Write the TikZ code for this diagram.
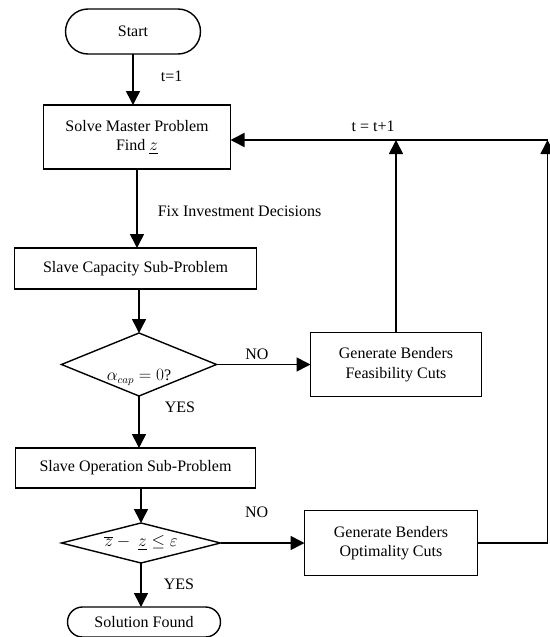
\documentclass[tikz,border=0pt]{standalone}
\usepackage{amsmath,amssymb}
\usepackage{fontspec}
\setmainfont{Liberation Serif}
\usepackage{tikz}
\usetikzlibrary{
  shapes.geometric, shapes.misc, arrows.meta, positioning
}
\tikzset{
  flowbox/.style={
    draw, line width=1.4pt, align=center, inner sep=0pt, outer sep=0pt,
    font=\fontsize{16}{19.5}\selectfont, fill=white
  },
  terminal/.style={
    flowbox, rounded rectangle
  },
  process/.style={
    flowbox, rectangle
  },
  decision/.style={
    flowbox, diamond, aspect=3.5
  },
  flowarrow/.style={
    -{Triangle[length=14pt,width=14pt]}, line width=1.6pt
  },
  flowlabel/.style={
    font=\fontsize{16}{19.5}\selectfont, inner sep=0pt
  },
}

\begin{document}
\begin{tikzpicture}[x=1pt, y=1pt]
  \useasboundingbox (0,0) rectangle (549,-637);

  % ── Main column ──
  \node[terminal, minimum width=135pt, minimum height=45pt] (start) at (133,-31.5) {Start};
  \node[process, minimum width=187pt, minimum height=64pt, below=51pt of start, xshift=4pt] (master)
    {Solve Master Problem\\Find $\underline{z}$};
  \node[process, minimum width=242pt, minimum height=41pt, below=79pt of master, xshift=-1.5pt] (capsub)
    {Slave Capacity Sub-Problem};
  \node[decision, minimum width=155pt, minimum height=63pt, below=44pt of capsub, xshift=3.5pt] (capcheck)
    {\raisebox{-16pt}[0pt][0pt]{$\alpha_{cap} = 0$?}};
  \node[process, minimum width=240pt, minimum height=40pt, below=52pt of capcheck, xshift=-3.5pt] (opsub)
    {Slave Operation Sub-Problem};
  \node[decision, minimum width=159pt, minimum height=40pt, below=35pt of opsub, xshift=5.5pt] (gapcheck)
    {$\overline{z} -\ \underline{z} \leq \varepsilon$};
  \node[terminal, minimum width=153pt, minimum height=30pt, below=44pt of gapcheck, xshift=3pt] (solution)
    {Solution Found};

  % ── Cut generation ──
  \node[process, minimum width=171pt, minimum height=64pt, right=94pt of capcheck] (feascuts)
    {Generate Benders\\Feasibility Cuts};
  \node[process, minimum width=173pt, minimum height=65pt, right=84pt of gapcheck] (optcuts)
    {Generate Benders\\Optimality Cuts};
  \coordinate[right=317pt of master.east, yshift=-3pt] (loop);

  % ── Connectors ──
  \draw[flowarrow] (start) -- node[flowlabel, pos=0.43, right=27pt] {t=1} (start |- master.north);
  \draw[flowarrow] (master) -- node[flowlabel, pos=0.53, right=20pt] {Fix Investment Decisions} (master |- capsub.north);
  \draw[flowarrow] (capsub) -- (capcheck |- capsub.south) -- (capcheck);
  \draw[flowarrow] (capcheck) -- node[flowlabel, pos=0.43, above=4pt] {NO} (feascuts);
  \draw[flowarrow] (capcheck) -- node[flowlabel, pos=0.21, right=25pt] {YES} (capcheck |- opsub.north);
  \draw[flowarrow] (opsub) -- (gapcheck |- opsub.south) -- (gapcheck);
  \draw[flowarrow] (gapcheck) -- node[flowlabel, pos=0.43, above=25pt] {NO} (optcuts);
  \draw[flowarrow] (gapcheck) -- node[flowlabel, pos=0.48, right=22pt] {YES} (gapcheck |- solution.north);
  \draw[flowarrow] (feascuts) -- (feascuts |- loop);
  \draw[flowarrow] (optcuts) -| (loop);
  \draw[flowarrow] (loop) -- node[flowlabel, pos=0.55, above=8pt] {t = t+1} (master.east |- loop);
\end{tikzpicture}
\end{document}
